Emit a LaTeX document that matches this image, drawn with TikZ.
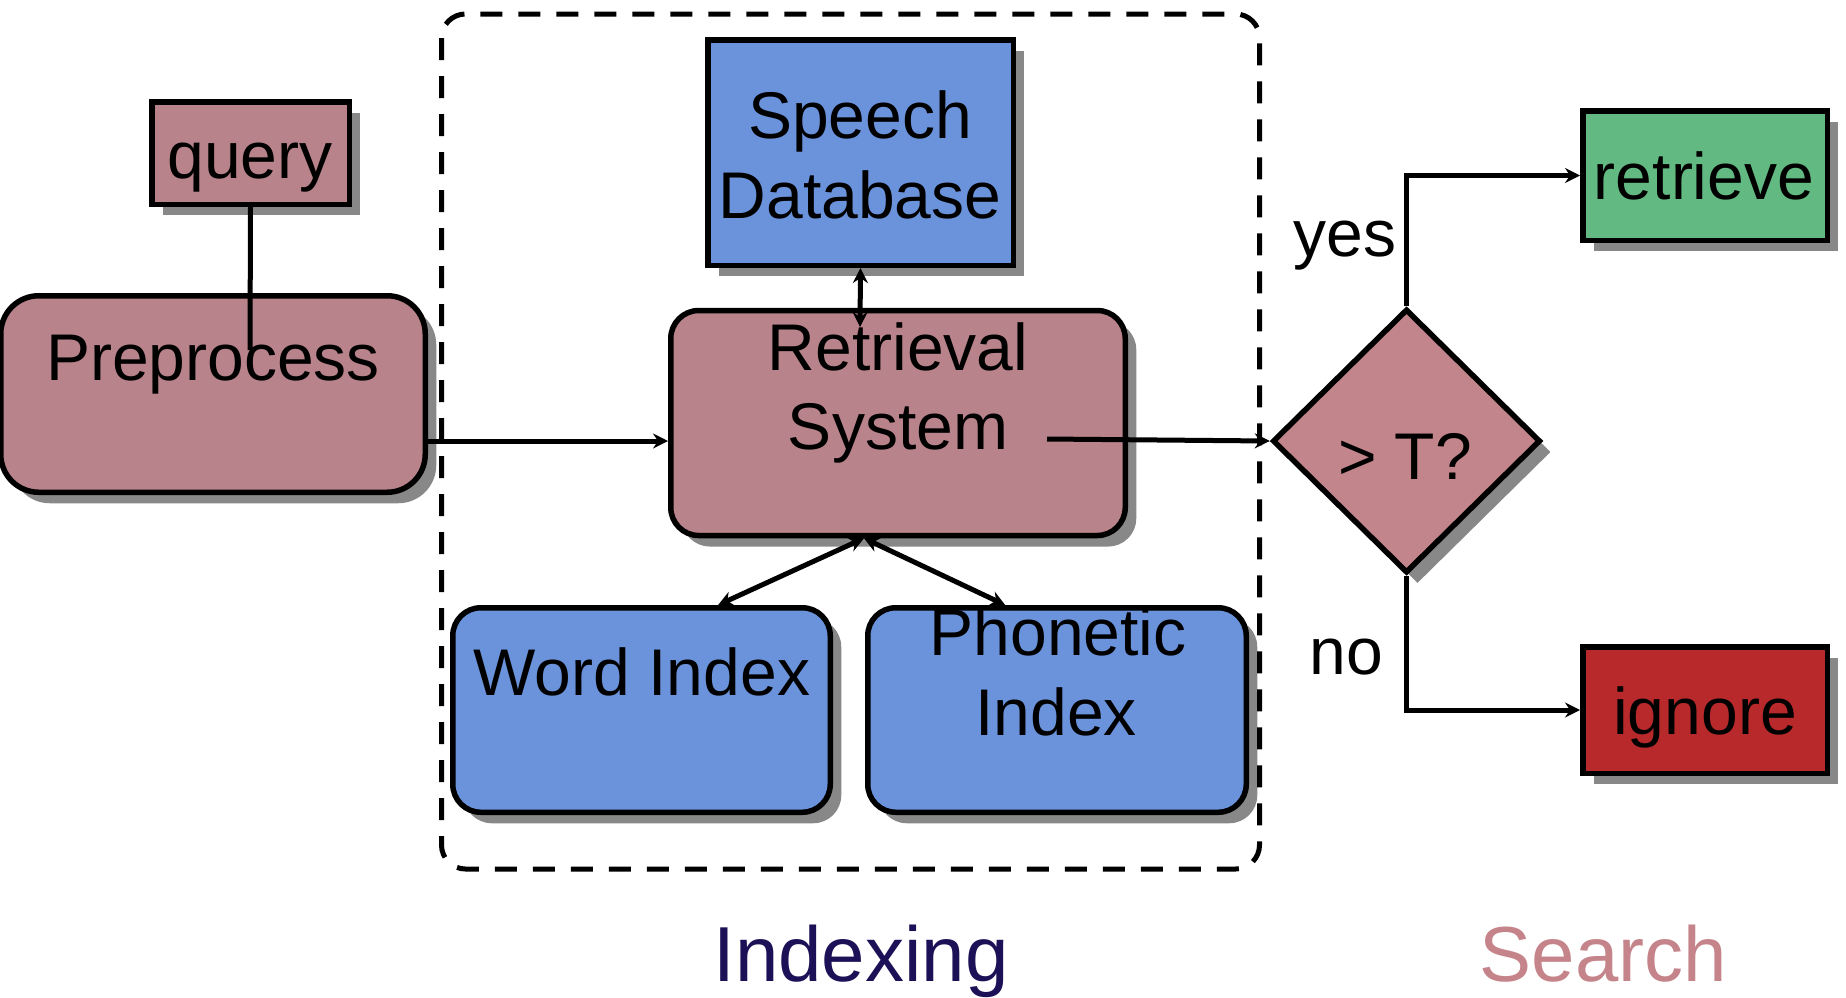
\documentclass[tikz,border=0pt]{standalone}
\usepackage{fontspec}
\setmainfont{Liberation Sans}
\usetikzlibrary{shapes.geometric,shadows,arrows.meta,calc}
\definecolor{rose}{HTML}{B8838A}
\definecolor{rosed}{HTML}{C2858B}
\definecolor{bluef}{HTML}{6A93DC}
\definecolor{greenf}{HTML}{62B982}
\definecolor{redf}{HTML}{B8292B}
\definecolor{shad}{HTML}{888888}
\definecolor{navy}{HTML}{1C1056}
\definecolor{searchc}{HTML}{C5848A}
\tikzset{
  shd/.style={drop shadow={shadow xshift=11pt, shadow yshift=-11pt, fill=shad, opacity=1}},
  box/.style={draw=black, line width=5.5pt, shd, inner sep=0pt},
  rbox/.style={box, rounded corners=28pt},
  lbl/.style={font=\fontsize{66}{79}\selectfont, anchor=base, inner sep=0pt},
  big/.style={font=\fontsize{78}{94}\selectfont, anchor=base, inner sep=0pt},
  tip/.tip={Stealth[length=15pt,width=15pt,inset=5pt]},
  ln/.style={line width=5pt},
  arr/.style={ln, -tip},
  darr/.style={ln, tip-tip},
  dashbox/.style={line width=5pt, dash pattern=on 22pt off 16pt, rounded corners=24pt},
}
\begin{document}
\begin{tikzpicture}[x=1pt,y=-1pt]
\fill[white] (0,0) rectangle (1846,997);
\useasboundingbox (0,0) rectangle (1846,997);

% boxes
\node[box, fill=rose, minimum width=197.5pt, minimum height=102.5pt] (query) at (250.5,153) {};
\node[lbl] (queryt) at (250,178) {query};

\node[rbox, rounded corners=38pt, fill=rose, minimum width=424.5pt, minimum height=196.5pt] (pre) at (213,394) {};
\node[lbl] (pret) at (213,380) {Preprocess};

\node[box, fill=bluef, minimum width=305.5pt, minimum height=225.5pt] (sdb) at (860.5,152.5) {};
\node[lbl] (sdbt1) at (860,138) {Speech};
\node[lbl] (sdbt2) at (860,218) {Database};

\node[rbox, fill=rose, minimum width=454.5pt, minimum height=225pt] (ret) at (898,423) {};
\node[lbl] (rett1) at (898,370) {Retrieval};
\node[lbl] (rett2) at (898,449) {System};

\node[rbox, fill=bluef, minimum width=377.5pt, minimum height=204.5pt] (word) at (641.5,710) {};
\node[lbl] (wordt) at (642,695) {Word Index};

\node[rbox, fill=bluef, minimum width=378.5pt, minimum height=204.5pt] (pho) at (1057,710) {};
\node[lbl] (phot1) at (1058,655) {Phonetic};
\node[lbl] (phot2) at (1056,735) {Index};

\node[diamond, draw=black, line width=5.5pt, shd, fill=rosed, inner sep=0pt, minimum width=268pt, minimum height=264pt] (dia) at (1406.5,441) {};
\node[lbl] (diat) at (1405,479.5) {> T?};

\node[box, fill=greenf, minimum width=244.5pt, minimum height=129.5pt] (rtv) at (1705,175.5) {};
\node[lbl] (rtvt) at (1704,199) {retrieve};

\node[box, fill=redf, minimum width=244.5pt, minimum height=126.5pt] (ign) at (1705,710) {};
\node[lbl] (ignt) at (1705,734) {ignore};

% labels
\node[lbl] (yes) at (1345,256) {yes};
\node[lbl] (no) at (1346,674) {no};
\node[big, text=navy] (indexing) at (861,981) {Indexing};
\node[big, text=searchc] (search) at (1603.5,981) {Search};

% connectors
\coordinate (qend) at (250,350);
\coordinate (yline) at (0,441);
\coordinate (sdbend) at (860,327);
\coordinate (retin) at (1047,439);
\draw[ln] (query.south) -- (qend);
\draw[arr] (pre.east |- yline) -- (ret.west |- yline);
\draw[darr] (sdb.south) -- (sdbend);
\draw[darr] ($(ret.south west)!0.426!(ret.south east)$) -- ($(word.north west)!0.70!(word.north east)$);
\draw[darr] ($(ret.south west)!0.426!(ret.south east)$) -- ($(pho.north west)!0.365!(pho.north east)$);
\draw[arr] (retin) -- (dia.west);
\draw[arr] (dia.north) |- (rtv.west);
\draw[arr] (dia.south) |- (ign.west);

% dashed group
\draw[dashbox] (441.5,14) rectangle (1259.5,869);
\end{tikzpicture}
\end{document}
